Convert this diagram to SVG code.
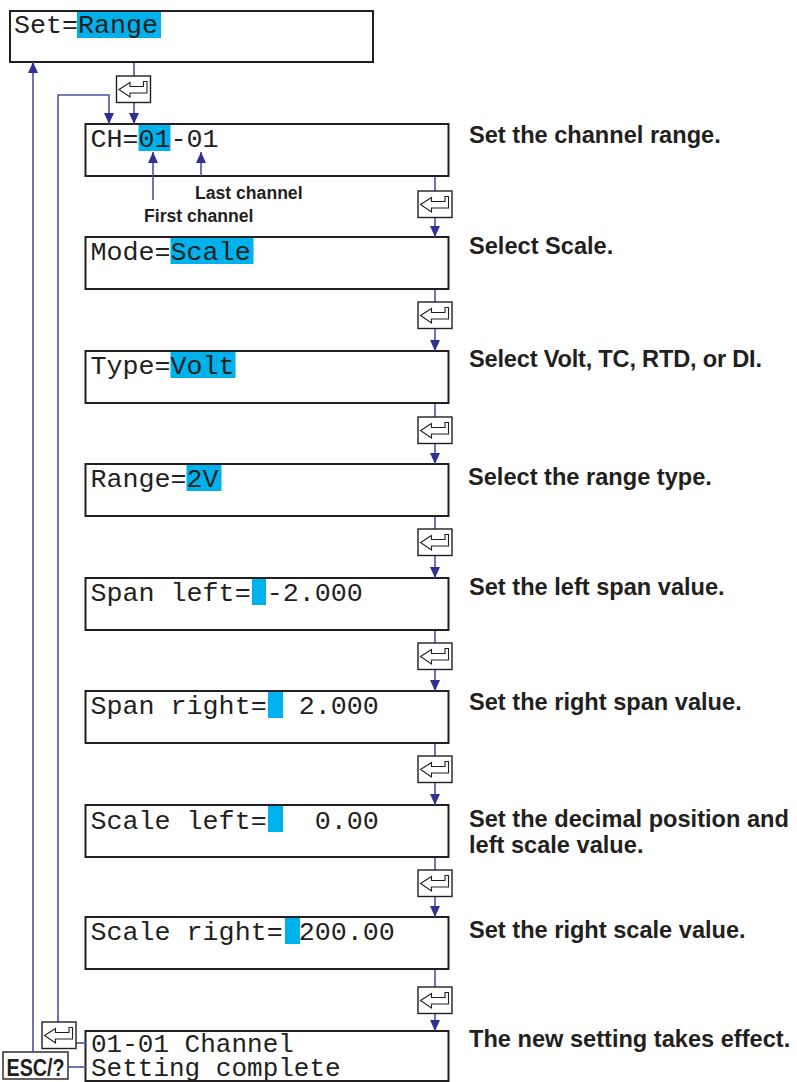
<svg xmlns="http://www.w3.org/2000/svg" xmlns:xlink="http://www.w3.org/1999/xlink" width="797" height="1082" viewBox="0 0 797 1082">
<style>
.box{fill:#fff;stroke:#231f20;stroke-width:2}
.hl{fill:#00b2ec}
.mono{font-family:"Liberation Mono","Courier New",monospace;font-size:26.7px;fill:#231f20;white-space:pre}
.mono2{font-family:"Liberation Mono","Courier New",monospace;font-size:26px;fill:#231f20;white-space:pre}
.lbl{font-family:"Liberation Sans",Arial,Helvetica,sans-serif;font-weight:bold;font-size:23.6px;fill:#231f20}
.small{font-family:"Liberation Sans",Arial,Helvetica,sans-serif;font-weight:bold;font-size:17.6px;fill:#231f20}
.con{fill:none;stroke:#4b50a4;stroke-width:1.6}
.ekey{fill:#fff;stroke:#231f20;stroke-width:1.4}
.earrow{fill:#fff;stroke:#231f20;stroke-width:1.1;stroke-linejoin:miter}
</style>
<defs>
<marker id="ah" markerUnits="userSpaceOnUse" markerWidth="11" markerHeight="10" refX="11" refY="5" orient="auto">
<path d="M0,0 L11,5 L0,10 z" fill="#2e3192"/>
</marker>
<g id="enter">
<rect class="ekey" x="0" y="0" width="34" height="26.5"/>
<polygon class="earrow" points="2.5,13.5 13.5,6.5 13.5,10.5 27,10.5 27,5.5 30.5,5.5 30.5,17 13.5,17 13.5,21"/>
</g>
</defs>

<g id="node-set">
<rect class="box" x="10" y="11" width="363" height="51"/>
<rect class="hl" x="77" y="12" width="84" height="26"/>
<text class="mono" x="14" y="33">Set=Range</text>
</g>

<g id="node-ch">
<rect class="box" x="85.5" y="124" width="363" height="52"/>
<rect class="hl" x="138.5" y="125" width="32" height="26"/>
<text class="mono" x="90.5" y="146.5">CH=01-01</text>
<text class="small" x="195" y="199">Last channel</text>
<text class="small" x="144" y="222">First channel</text>
<text class="lbl" x="469" y="143">Set the channel range.</text>
</g>

<g id="node-mode">
<rect class="box" x="85.5" y="237" width="363" height="52"/>
<rect class="hl" x="170.5" y="238" width="83" height="26"/>
<text class="mono" x="90.5" y="260">Mode=Scale</text>
<text class="lbl" x="469" y="254">Select Scale.</text>
</g>

<g id="node-type">
<rect class="box" x="85.5" y="351" width="363" height="52"/>
<rect class="hl" x="170.5" y="352" width="65" height="26"/>
<text class="mono" x="90.5" y="373.5">Type=Volt</text>
<text class="lbl" x="469" y="367" textLength="293" lengthAdjust="spacing">Select Volt, TC, RTD, or DI.</text>
</g>

<g id="node-range">
<rect class="box" x="85.5" y="464" width="363" height="52"/>
<rect class="hl" x="186.5" y="465" width="35" height="26"/>
<text class="mono" x="90.5" y="486.5">Range=2V</text>
<text class="lbl" x="468" y="485">Select the range type.</text>
</g>

<g id="node-span-left">
<rect class="box" x="85.5" y="578" width="363" height="52"/>
<rect class="hl" x="252" y="579" width="14" height="26"/>
<text class="mono" x="90.5" y="600.5">Span left= -2.000</text>
<text class="lbl" x="469" y="595">Set the left span value.</text>
</g>

<g id="node-span-right">
<rect class="box" x="85.5" y="691" width="363" height="52"/>
<rect class="hl" x="268" y="692" width="15" height="26"/>
<text class="mono" x="90.5" y="713.5">Span right=  2.000</text>
<text class="lbl" x="469" y="710">Set the right span value.</text>
</g>

<g id="node-scale-left">
<rect class="box" x="85.5" y="805" width="363" height="52"/>
<rect class="hl" x="268" y="806" width="15" height="26"/>
<text class="mono" x="90.5" y="829">Scale left=   0.00</text>
<text class="lbl" x="469" y="827">Set the decimal position and</text>
<text class="lbl" x="469" y="853">left scale value.</text>
</g>

<g id="node-scale-right">
<rect class="box" x="85.5" y="917" width="363" height="52"/>
<rect class="hl" x="285" y="918" width="15" height="26"/>
<text class="mono" x="90.5" y="940">Scale right= 200.00</text>
<text class="lbl" x="469" y="938">Set the right scale value.</text>
</g>

<g id="node-complete">
<rect class="box" x="85.5" y="1031" width="363" height="50"/>
<text class="mono2" x="91" y="1052">01-01 Channel</text>
<text class="mono2" x="91" y="1075.5">Setting complete</text>
<text class="lbl" x="469" y="1047">The new setting takes effect.</text>
</g>

<g id="node-esc">
<rect class="ekey" x="3" y="1052" width="65" height="27"/>
<text x="35.5" y="1076" text-anchor="middle" font-family="'Liberation Sans',Arial,sans-serif" font-weight="bold" font-size="23" fill="#231f20" textLength="58" lengthAdjust="spacingAndGlyphs">ESC/?</text>
</g>

<g id="connectors">
<line class="con" x1="134" y1="63" x2="134" y2="76"/>
<line class="con" x1="134" y1="102" x2="134" y2="124" marker-end="url(#ah)"/>
<polyline class="con" points="58,1022 58,95 109,95 109,124" marker-end="url(#ah)"/>
<line class="con" x1="33" y1="1052" x2="33" y2="62" marker-end="url(#ah)"/>
<line class="con" x1="76" y1="1043" x2="86" y2="1043"/>
<line class="con" x1="68" y1="1067" x2="86" y2="1067"/>
<line class="con" x1="153" y1="200" x2="153" y2="152" marker-end="url(#ah)"/>
<line class="con" x1="201" y1="176" x2="201" y2="152" marker-end="url(#ah)"/>
<line class="con" x1="435" y1="177" x2="435" y2="191"/>
<line class="con" x1="435" y1="217" x2="435" y2="237" marker-end="url(#ah)"/>
<line class="con" x1="435" y1="290" x2="435" y2="302"/>
<line class="con" x1="435" y1="328" x2="435" y2="351" marker-end="url(#ah)"/>
<line class="con" x1="435" y1="404" x2="435" y2="417"/>
<line class="con" x1="435" y1="443" x2="435" y2="464" marker-end="url(#ah)"/>
<line class="con" x1="435" y1="517" x2="435" y2="529"/>
<line class="con" x1="435" y1="555" x2="435" y2="578" marker-end="url(#ah)"/>
<line class="con" x1="435" y1="631" x2="435" y2="643"/>
<line class="con" x1="435" y1="669" x2="435" y2="691" marker-end="url(#ah)"/>
<line class="con" x1="435" y1="744" x2="435" y2="756"/>
<line class="con" x1="435" y1="782" x2="435" y2="805" marker-end="url(#ah)"/>
<line class="con" x1="435" y1="858" x2="435" y2="870"/>
<line class="con" x1="435" y1="896" x2="435" y2="917" marker-end="url(#ah)"/>
<line class="con" x1="435" y1="970" x2="435" y2="987"/>
<line class="con" x1="435" y1="1013" x2="435" y2="1031" marker-end="url(#ah)"/>
</g>

<g id="enter-keys">
<use xlink:href="#enter" x="116.5" y="76"/>
<use xlink:href="#enter" x="418" y="191"/>
<use xlink:href="#enter" x="418" y="302"/>
<use xlink:href="#enter" x="418" y="417"/>
<use xlink:href="#enter" x="418" y="529"/>
<use xlink:href="#enter" x="418" y="643"/>
<use xlink:href="#enter" x="418" y="756"/>
<use xlink:href="#enter" x="418" y="870"/>
<use xlink:href="#enter" x="418" y="987"/>
<use xlink:href="#enter" x="42" y="1022"/>
</g>
</svg>
